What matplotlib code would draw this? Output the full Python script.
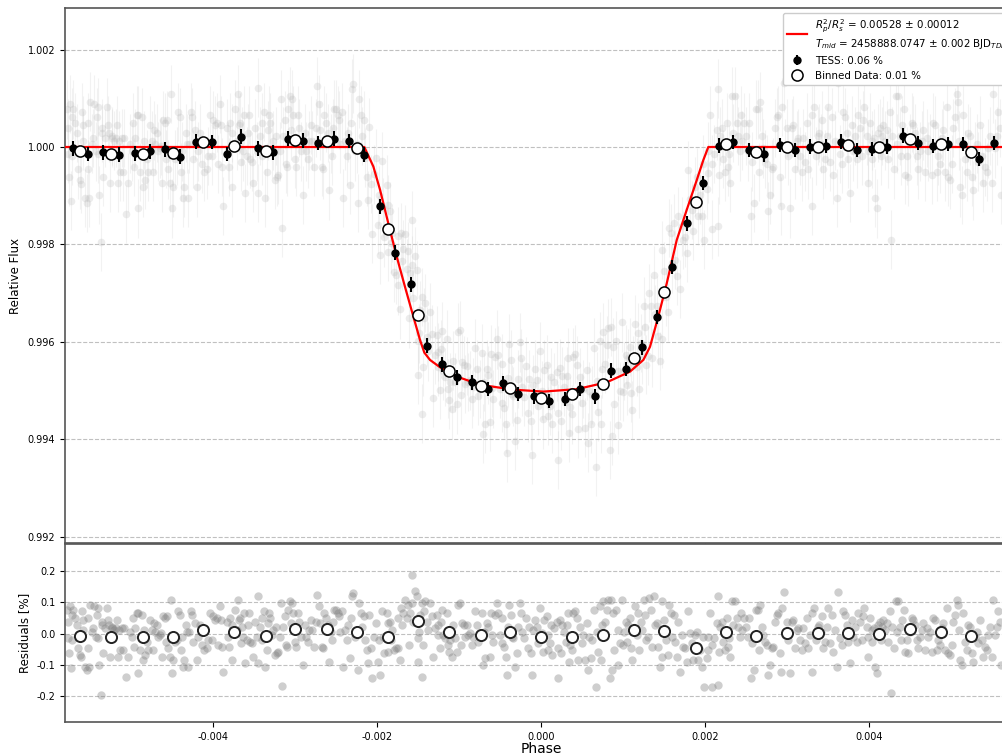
import numpy as np
import matplotlib
matplotlib.use("Agg")
import matplotlib.pyplot as plt

# Transit model (red curve), knots
model_phase = [-0.0060, -0.002155, -0.002045, -0.001963, -0.001862, -0.001760, -0.001659, -0.001557,
               -0.001476, -0.001423, -0.001354, -0.001232, -0.001028, -0.000744, -0.000338, 0.000028,
               0.000435, 0.000801, 0.001085, 0.001248, 0.001329, 0.001430, 0.001533, 0.001655,
               0.001777, 0.001899, 0.001979, 0.002040, 0.0060]
model_flux = [1.0, 1.0, 0.99960, 0.99912, 0.99843, 0.99775, 0.99713, 0.99652,
              0.99604, 0.99578, 0.99563, 0.99548, 0.99529, 0.99512, 0.99502, 0.99498,
              0.99503, 0.99517, 0.99539, 0.99563, 0.99590, 0.99652, 0.99720, 0.99809,
              0.99871, 0.99932, 0.99973, 1.0, 1.0]

# TESS points (black)
tess_phase = [-0.005711, -0.005521, -0.005338, -0.005146, -0.004955, -0.004768, -0.004585, -0.004399,
              -0.004207, -0.004016, -0.003826, -0.003655, -0.003455, -0.003265, -0.003085, -0.002899,
              -0.002716, -0.002524, -0.002338, -0.002155, -0.001963, -0.001777, -0.001585, -0.001394,
              -0.001207, -0.001024, -0.000838, -0.000650, -0.000463, -0.000280, -0.000089, 0.000098,
              0.000289, 0.000476, 0.000662, 0.000850, 0.001037, 0.001228, 0.001411, 0.001601,
              0.001784, 0.001979, 0.002171, 0.002345, 0.002533, 0.002720, 0.002915, 0.003098,
              0.003280, 0.003472, 0.003659, 0.003850, 0.004033, 0.004223, 0.004411, 0.004594,
              0.004784, 0.004967, 0.005150, 0.005345, 0.005528]
tess_flux = [0.99997, 0.99986, 0.99989, 0.99984, 0.99987, 0.99991, 0.99995, 0.99980, 1.00011, 1.00010,
             0.99986, 1.00021, 0.99997, 0.99989, 1.00017, 1.00013, 1.00008, 1.00017, 1.00012, 0.99984,
             0.99878, 0.99783, 0.99718, 0.99592, 0.99554, 0.99527, 0.99517, 0.99503, 0.99515, 0.99493,
             0.99488, 0.99479, 0.99483, 0.99503, 0.99488, 0.99541, 0.99544, 0.99589, 0.99651, 0.99754,
             0.99843, 0.99926, 1.00003, 1.00010, 0.99994, 0.99985, 1.00004, 0.99994, 1.00001, 1.00002,
             1.00011, 0.99994, 0.99996, 1.00001, 1.00023, 1.00008, 1.00002, 1.00006, 1.00006, 0.99975,
             1.00008]
tess_err = 0.00015

# Binned data (open circles)
bin_phase = [-0.005622, -0.005244, -0.004857, -0.004491, -0.004118, -0.003740, -0.003357, -0.002996,
             -0.002613, -0.002248, -0.001870, -0.001496, -0.001118, -0.000735, -0.000374, 0.000004,
             0.000382, 0.000752, 0.001134, 0.001504, 0.001887, 0.002256, 0.002626, 0.002996,
             0.003374, 0.003748, 0.004126, 0.004500, 0.004874, 0.005244]
bin_flux = [0.99991, 0.99986, 0.99986, 0.99988, 1.00010, 1.00003, 0.99992, 1.00014, 1.00013, 0.99997,
            0.99831, 0.99655, 0.99541, 0.99510, 0.99505, 0.99485, 0.99493, 0.99513, 0.99567, 0.99702,
            0.99888, 1.00007, 0.99989, 1.00001, 1.00001, 1.00005, 0.99999, 1.00016, 1.00006, 0.99990]
bin_resid = [-0.008, -0.012, -0.011, -0.012, 0.012, 0.004, -0.007, 0.015, 0.014, 0.004,
             -0.010, 0.041, 0.004, -0.003, 0.007, -0.012, -0.009, -0.004, 0.012, 0.010,
             -0.045, 0.007, -0.007, 0.001, 0.002, 0.003, -0.001, 0.015, 0.004, -0.007]
bin_err = 0.00007

# Unbinned TESS points: phase and residual [%]
gray_phase = [
    -0.005785, -0.005764, -0.005744, -0.005724, -0.005703, -0.005772, -0.005724, -0.005756, -0.005732, -0.005683,
    -0.005663, -0.005651, -0.005622, -0.005614, -0.005602, -0.005581, -0.005581, -0.005561, -0.005541, -0.005529,
    -0.005520, -0.005512, -0.005500, -0.005480, -0.005459, -0.005447, -0.005431, -0.005419, -0.005407, -0.005399,
    -0.005386, -0.005366, -0.005358, -0.005350, -0.005337, -0.005317, -0.005297, -0.005285, -0.005264, -0.005256,
    -0.005236, -0.005228, -0.005203, -0.005187, -0.005175, -0.005155, -0.005146, -0.005134, -0.005114, -0.005094,
    -0.005081, -0.005065, -0.005041, -0.005012, -0.004992, -0.004972, -0.004960, -0.004951, -0.004931, -0.004911,
    -0.004911, -0.004890, -0.004870, -0.004850, -0.004837, -0.004829, -0.004809, -0.004789, -0.004768, -0.004748,
    -0.004728, -0.004716, -0.004707, -0.004687, -0.004675, -0.004646, -0.004634, -0.004618, -0.004606, -0.004585,
    -0.004577, -0.004565, -0.004545, -0.004525, -0.004512, -0.004504, -0.004484, -0.004464, -0.004443, -0.004423,
    -0.004403, -0.004390, -0.004374, -0.004362, -0.004350, -0.004333, -0.004321, -0.004301, -0.004293, -0.004268,
    -0.004252, -0.004240, -0.004220, -0.004199, -0.004179, -0.004159, -0.004138, -0.004106, -0.004077, -0.004057,
    -0.004037, -0.004016, -0.003996, -0.003976, -0.003955, -0.003935, -0.003915, -0.003903, -0.003886, -0.003874,
    -0.003834, -0.003813, -0.003805, -0.003793, -0.003773, -0.003765, -0.003732, -0.003712, -0.003700, -0.003683,
    -0.003671, -0.003659, -0.003651, -0.003630, -0.003618, -0.003610, -0.003590, -0.003578, -0.003561, -0.003549,
    -0.003529, -0.003508, -0.003488, -0.003468, -0.003456, -0.003448, -0.003427, -0.003407, -0.003399, -0.003374,
    -0.003366, -0.003346, -0.003334, -0.003317, -0.003305, -0.003285, -0.003265, -0.003244, -0.003236, -0.003224,
    -0.003204, -0.003183, -0.003171, -0.003155, -0.003143, -0.003122, -0.003114, -0.003102, -0.003082, -0.003061,
    -0.003049, -0.003041, -0.003021, -0.003000, -0.002992, -0.002968, -0.002952, -0.002927, -0.002899, -0.002878,
    -0.002866, -0.002846, -0.002830, -0.002805, -0.002789, -0.002765, -0.002748, -0.002732, -0.002708, -0.002695,
    -0.002675, -0.002655, -0.002643, -0.002626, -0.002602, -0.002586, -0.002561, -0.002545, -0.002533, -0.002521,
    -0.002504, -0.002480, -0.002464, -0.002447, -0.002431, -0.002411, -0.002391, -0.002370, -0.002350, -0.002334,
    -0.002317, -0.002301, -0.002289, -0.002269, -0.002248, -0.002236, -0.002220, -0.002195, -0.002179, -0.002155,
    -0.002147, -0.002126, -0.002114, -0.002098, -0.002073, -0.002057, -0.002033, -0.002016, -0.001992, -0.001976,
    -0.001960, -0.001943, -0.001923, -0.001911,
    -0.001882, -0.001869, -0.001861, -0.001841, -0.001829, -0.001813, -0.001788, -0.001772, -0.001748, -0.001739,
    -0.001719, -0.001707, -0.001699, -0.001678, -0.001658, -0.001638, -0.001626, -0.001609, -0.001597, -0.001577,
    -0.001569, -0.001556, -0.001536, -0.001516, -0.001504, -0.001496, -0.001487, -0.001475, -0.001455, -0.001447,
    -0.001435, -0.001422, -0.001414, -0.001394, -0.001374, -0.001353, -0.001333, -0.001313, -0.001292, -0.001272,
    -0.001260, -0.001252, -0.001231, -0.001219, -0.001203, -0.001191, -0.001170, -0.001150, -0.001138, -0.001122,
    -0.001109, -0.001089, -0.001069, -0.001048, -0.001028, -0.001008, -0.000987, -0.000975, -0.000959, -0.000935,
    -0.000926, -0.000906, -0.000886, -0.000865, -0.000845, -0.000825, -0.000804, -0.000784, -0.000772, -0.000743,
    -0.000723, -0.000703, -0.000691, -0.000682, -0.000662, -0.000642, -0.000622, -0.000609, -0.000593, -0.000581,
    -0.000561, -0.000540, -0.000520, -0.000500, -0.000479, -0.000471, -0.000447, -0.000430, -0.000418, -0.000406,
    -0.000390, -0.000365, -0.000357, -0.000337, -0.000317, -0.000296, -0.000276, -0.000256, -0.000243, -0.000227,
    -0.000203, -0.000187, -0.000162, -0.000146, -0.000121, -0.000113, -0.000093, -0.000073, -0.000052, -0.000032,
    -0.000012, 0.000009, 0.000029, 0.000041,
    0.000069, 0.000081, 0.000089, 0.000110, 0.000122, 0.000138, 0.000163, 0.000191, 0.000203, 0.000211,
    0.000232, 0.000244, 0.000260, 0.000285, 0.000301, 0.000313, 0.000333, 0.000342, 0.000354, 0.000374,
    0.000394, 0.000415, 0.000435, 0.000455, 0.000476, 0.000496, 0.000516, 0.000537, 0.000557, 0.000569,
    0.000585, 0.000610, 0.000626, 0.000650, 0.000667, 0.000679, 0.000699, 0.000720, 0.000732, 0.000748,
    0.000760, 0.000781, 0.000801, 0.000821, 0.000842, 0.000854, 0.000862, 0.000882, 0.000894, 0.000911,
    0.000935, 0.000943, 0.000963, 0.000984, 0.001004, 0.001016, 0.001033, 0.001045, 0.001065, 0.001085,
    0.001098, 0.001114, 0.001126, 0.001146, 0.001167, 0.001179, 0.001195, 0.001220, 0.001236, 0.001252,
    0.001268, 0.001276, 0.001301, 0.001317, 0.001341, 0.001358, 0.001374, 0.001390, 0.001411, 0.001431,
    0.001451, 0.001472, 0.001480, 0.001504, 0.001520, 0.001545, 0.001561, 0.001585, 0.001602, 0.001618,
    0.001634, 0.001655, 0.001675, 0.001695, 0.001716, 0.001736, 0.001756, 0.001777, 0.001797, 0.001817,
    0.001837, 0.001858, 0.001878, 0.001898, 0.001919, 0.001939, 0.001959, 0.001980, 0.001992,
    0.002020, 0.002033, 0.002041, 0.002061, 0.002081, 0.002089, 0.002114, 0.002142, 0.002154, 0.002163,
    0.002171, 0.002183, 0.002203, 0.002224, 0.002244, 0.002264, 0.002276, 0.002293, 0.002305, 0.002325,
    0.002346, 0.002366, 0.002386, 0.002407, 0.002427, 0.002439, 0.002455, 0.002480, 0.002496, 0.002520,
    0.002537, 0.002561, 0.002577, 0.002602, 0.002618, 0.002642, 0.002659, 0.002671, 0.002691, 0.002711,
    0.002732, 0.002752, 0.002772, 0.002793, 0.002813, 0.002833, 0.002854, 0.002874, 0.002894, 0.002915,
    0.002927, 0.002943, 0.002959, 0.002976, 0.002996, 0.003016, 0.003037, 0.003057, 0.003077, 0.003098,
    0.003118, 0.003138, 0.003159, 0.003179, 0.003199, 0.003220, 0.003240, 0.003260, 0.003280, 0.003301,
    0.003309, 0.003333, 0.003350, 0.003374, 0.003390, 0.003415, 0.003431, 0.003443, 0.003463, 0.003484,
    0.003504, 0.003524, 0.003545, 0.003565, 0.003585, 0.003606, 0.003626, 0.003646, 0.003667, 0.003687,
    0.003707, 0.003728, 0.003748, 0.003768, 0.003789, 0.003809, 0.003829, 0.003850, 0.003870, 0.003890,
    0.003911, 0.003931, 0.003943,
    0.003971, 0.003984, 0.003992, 0.004012, 0.004032, 0.004040, 0.004065, 0.004073, 0.004093, 0.004114,
    0.004134, 0.004146, 0.004162, 0.004175, 0.004195, 0.004215, 0.004236, 0.004256, 0.004268, 0.004284,
    0.004309, 0.004325, 0.004337, 0.004358, 0.004378, 0.004390, 0.004406, 0.004431, 0.004439, 0.004459,
    0.004479, 0.004500, 0.004520, 0.004540, 0.004561, 0.004581, 0.004601, 0.004622, 0.004642, 0.004662,
    0.004683, 0.004703, 0.004723, 0.004744, 0.004764, 0.004784, 0.004805, 0.004825, 0.004845, 0.004866,
    0.004886, 0.004906, 0.004927, 0.004947, 0.004967, 0.004988, 0.005008, 0.005028, 0.005049, 0.005069,
    0.005081, 0.005097, 0.005110, 0.005130, 0.005150, 0.005171, 0.005191, 0.005211, 0.005231, 0.005252,
    0.005272, 0.005292, 0.005313, 0.005333, 0.005353, 0.005374, 0.005394, 0.005414, 0.005435, 0.005455,
    0.005475, 0.005496, 0.005516, 0.005536, 0.005557, 0.005577, 0.005597, 0.005610,
]
gray_resid = [
    0.077, 0.039, 0.088, 0.061, 0.077, -0.014, -0.019, -0.062, -0.110, 0.050,
    0.029, -0.046, -0.067, -0.075, 0.072, 0.013, 0.045, -0.105, -0.115, -0.046,
    0.050, -0.105, 0.093, 0.007, 0.018, 0.088, -0.009, 0.061, 0.082, -0.014,
    -0.099, -0.195, 0.029, 0.039, -0.062, 0.018, 0.082, 0.045, 0.029, -0.073,
    0.023, 0.018, 0.013, 0.018, 0.045, -0.073, 0.013, -0.051, 0.018, -0.051,
    0.018, -0.137, -0.073, 0.007, -0.009, 0.050, -0.041, 0.018, 0.066, 0.066,
    -0.126, -0.051, 0.061, -0.083, 0.013, -0.067, -0.025, -0.051, 0.045, 0.013,
    -0.051, 0.034, 0.007, 0.029, -0.009, -0.003, 0.002, -0.073, 0.055, 0.050,
    -0.025, 0.055, -0.046, -0.073, 0.109, -0.126, -0.083, -0.025, -0.019, 0.072,
    0.061, -0.051, -0.009, -0.105, -0.083, 0.029, 0.007, -0.105, 0.007, 0.072,
    0.061, -0.025, 0.034, -0.083, -0.009, 0.029, -0.035, -0.051, -0.046, -0.019,
    0.066, -0.019, 0.055, 0.045, 0.050, -0.035, 0.088, 0.045, -0.041, -0.121,
    0.039, -0.009, -0.041, 0.050, -0.083, 0.029, 0.077, 0.013, 0.109, 0.045,
    0.050, -0.030, 0.023, -0.009, 0.066, -0.094, -0.019, 0.029, 0.066, -0.025,
    -0.030, -0.073, 0.039, -0.009, 0.122, -0.094, 0.023, 0.050, -0.019, 0.072,
    -0.105, -0.051, 0.034, 0.066, 0.050, -0.003, 0.013, -0.067, 0.023, -0.062,
    -0.057, -0.009, 0.098, -0.166, 0.023, 0.055, -0.035, -0.041, 0.077, 0.104,
    0.034, 0.098, 0.066, -0.025, -0.041, 0.066, 0.039, -0.009, -0.099, 0.029,
    -0.009, -0.025, 0.013, 0.045, 0.013, -0.041, 0.039, 0.125, 0.088, 0.034,
    -0.041, -0.046, 0.066, 0.050, 0.029, -0.089, 0.007, -0.019, 0.039, 0.077,
    0.077, 0.066, 0.055, 0.007, 0.072, -0.105, 0.013, -0.019, 0.029, -0.078,
    0.050, 0.120, 0.130, -0.009, 0.007, -0.115, 0.098, 0.066, 0.023, 0.055,
    -0.019, -0.051, -0.094, 0.061, -0.046, -0.142, -0.009, 0.034, -0.089, -0.019,
    -0.131, 0.072, -0.009, -0.062,
    0.066, 0.034, -0.057, 0.039, -0.019, 0.013, -0.051, -0.046, 0.050, -0.046,
    -0.083, 0.082, 0.029, 0.066, 0.109, 0.050, 0.093, -0.035, 0.066, 0.186,
    0.098, 0.039, 0.136, 0.120, -0.089, -0.014, 0.007, 0.061, 0.098, -0.137,
    -0.035, 0.072, 0.104, 0.039, 0.013, 0.098, 0.055, -0.073, 0.018, 0.061,
    -0.003, 0.029, -0.046, 0.039, 0.077, -0.003, -0.014, 0.066, -0.035, -0.057,
    -0.019, -0.073, 0.029, -0.014, -0.057, 0.093, 0.098, -0.035, 0.034, 0.029,
    -0.009, 0.029, -0.003, 0.002, -0.035, -0.009, 0.072, 0.029, -0.025, -0.009,
    0.066, -0.099, 0.007, -0.078, 0.034, 0.023, -0.073, 0.066, -0.003, -0.025,
    0.061, 0.098, 0.066, -0.003, -0.030, 0.050, -0.041, -0.073, -0.131, 0.023,
    0.093, 0.061, -0.009, -0.014, -0.105, -0.062, 0.023, 0.098, 0.066, 0.007,
    -0.014, 0.050, -0.046, 0.023, -0.062, -0.131, 0.013, 0.045, 0.023, -0.030,
    0.082, 0.002, -0.057, 0.045,
    0.055, -0.003, -0.051, -0.030, 0.029, -0.067, 0.018, 0.039, -0.142, -0.046,
    0.045, -0.062, 0.029, 0.007, -0.025, 0.029, 0.066, -0.089, -0.035, -0.051,
    0.066, 0.072, 0.050, -0.083, 0.023, -0.030, -0.003, -0.083, 0.034, -0.115,
    -0.009, -0.078, -0.019, 0.077, -0.169, 0.007, -0.057, 0.088, -0.083, 0.029,
    0.104, 0.039, 0.077, 0.109, -0.142, 0.109, -0.115, 0.066, -0.051, 0.077,
    0.013, -0.099, -0.030, 0.109, -0.035, 0.007, 0.039, -0.025, 0.029, 0.050,
    -0.046, -0.083, 0.007, 0.088, -0.003, 0.066, -0.051, 0.039, 0.013, 0.109,
    0.061, -0.019, -0.009, 0.114, 0.077, -0.041, 0.120, 0.029, 0.034, -0.041,
    -0.105, -0.073, 0.104, 0.045, -0.019, -0.067, 0.093, 0.066, -0.009, 0.061,
    -0.025, -0.073, 0.039, -0.121, -0.003, -0.041, -0.046, -0.089, 0.072, 0.002,
    -0.030, -0.083, -0.003, 0.007, -0.083, -0.051, -0.105, -0.009, -0.169,
    -0.078, -0.051, -0.009, 0.066, -0.169, -0.035, -0.014, 0.034, -0.163, 0.120,
    -0.057, 0.023, 0.039, -0.025, -0.051, 0.050, -0.041, -0.014, -0.073, 0.104,
    0.029, 0.104, 0.050, 0.023, -0.009, 0.066, 0.013, 0.050, 0.023, -0.009,
    0.050, -0.142, -0.030, -0.115, 0.077, 0.077, -0.051, 0.093, 0.023, -0.003,
    -0.025, -0.035, -0.131, -0.099, -0.046, -0.041, 0.039, 0.061, 0.066, -0.062,
    -0.121, 0.082, 0.132, -0.003, 0.039, -0.019, -0.126, 0.039, 0.045, -0.046,
    0.013, 0.018, -0.019, -0.051, 0.018, -0.030, 0.050, -0.046, -0.003, 0.066,
    -0.121, 0.082, -0.019, 0.023, 0.029, 0.007, 0.055, -0.046, -0.025, 0.023,
    0.082, -0.030, 0.061, -0.057, 0.013, -0.105, 0.132, -0.014, -0.035, 0.072,
    0.061, 0.029, -0.025, -0.094, 0.045, -0.009, 0.023, -0.025, 0.066, 0.039,
    -0.019, 0.055, 0.082,
    0.023, -0.009, -0.073, 0.050, 0.013, -0.025, 0.018, -0.105, -0.126, 0.029,
    0.039, -0.019, 0.023, 0.045, 0.013, 0.034, -0.025, 0.072, -0.190, 0.023,
    -0.046, 0.104, 0.007, 0.104, 0.023, -0.019, 0.045, 0.077, -0.057, -0.019,
    -0.062, 0.007, 0.050, 0.045, 0.029, -0.019, -0.046, -0.009, 0.013, 0.034,
    -0.051, 0.018, -0.009, 0.007, -0.057, 0.050, 0.045, -0.051, -0.019, -0.035,
    0.018, 0.034, -0.051, 0.082, -0.062, -0.067, -0.035, 0.039, 0.061, 0.109,
    0.093, 0.013, -0.083, -0.099, 0.066, -0.025, -0.051, 0.029, 0.023, -0.062,
    -0.089, -0.009, 0.007, -0.030, 0.045, -0.019, -0.073, -0.041, -0.051, -0.003,
    0.023, -0.073, 0.109, -0.003, 0.023, 0.072, 0.039, -0.099,
]
gray_err = 0.0006

legend_fit = "$R_p^2/R_s^2$ = 0.00528 ± 0.00012\n$T_{mid}$ = 2458888.0747 ± 0.002 BJD$_{TDB}$"
legend_tess = "TESS: 0.06 %"
legend_bin = "Binned Data: 0.01 %"

# the unbinned flux is the model plus the residual
gray_phase = np.array(gray_phase)
gray_model = np.interp(gray_phase, model_phase, model_flux)
gray_flux = gray_model + np.array(gray_resid) / 100.0

fig = plt.figure(figsize=(10.02, 7.56), dpi=100)
ax = fig.add_axes([0.0649, 0.2815, 0.9501, 0.7080])
axr = fig.add_axes([0.0649, 0.0450, 0.9501, 0.2360], sharex=ax)

# top panel
ax.errorbar(gray_phase, gray_flux, yerr=gray_err, fmt="o", ms=5.5, color="#b5b5b5",
            ecolor="#cccccc", elinewidth=0.8, alpha=0.25, mew=0, zorder=1)
fit_line, = ax.plot(model_phase, model_flux, color="red", lw=1.6, zorder=3, label=legend_fit)
tess_h = ax.errorbar(tess_phase, tess_flux, yerr=tess_err, fmt="o", ms=5, color="black",
                     elinewidth=1.5, capsize=0, zorder=4, label=legend_tess)
ax.errorbar(bin_phase, bin_flux, yerr=bin_err, fmt="none", ecolor="black", elinewidth=1.0, zorder=5)
bin_h, = ax.plot(bin_phase, bin_flux, "o", ms=8, mfc="white", mec="black", mew=1.1,
                 zorder=6, label=legend_bin)

ax.set_xlim(-0.005805, 0.005805)
ax.set_ylim(0.991869, 1.002854)
ax.set_yticks([0.992, 0.994, 0.996, 0.998, 1.000, 1.002])
ax.yaxis.set_major_formatter(plt.FormatStrFormatter("%.3f"))
ax.set_ylabel("Relative Flux", fontsize=8.5)
ax.tick_params(axis="y", labelsize=7)
ax.tick_params(axis="x", labelbottom=False)
ax.yaxis.grid(True, linestyle="--", color="#c0c0c0", lw=0.8)
ax.set_axisbelow(True)
ax.legend(handles=[fit_line, tess_h, bin_h], loc="upper right", fontsize=7.4,
          framealpha=1.0, edgecolor="#cccccc")

# residual panel
axr.plot(gray_phase, gray_resid, "o", ms=6, color="gray", alpha=0.38, mew=0, zorder=1)
axr.plot(bin_phase, bin_resid, "o", ms=8, mfc="white", mec="#222222", mew=1.4, zorder=3)
axr.set_ylim(-0.282, 0.288)
axr.set_yticks([-0.2, -0.1, 0.0, 0.1, 0.2])
axr.yaxis.set_major_formatter(plt.FormatStrFormatter("%.1f"))
axr.set_xticks([-0.004, -0.002, 0.0, 0.002, 0.004])
axr.xaxis.set_major_formatter(plt.FormatStrFormatter("%.3f"))
axr.tick_params(labelsize=7)
axr.set_ylabel("Residuals [%]", fontsize=8.5)
axr.set_xlabel("Phase", fontsize=10, labelpad=0)
axr.yaxis.grid(True, linestyle="--", color="#c0c0c0", lw=0.8)
axr.set_axisbelow(True)

for a in (ax, axr):
    for s in a.spines.values():
        s.set_color("#555555")
        s.set_linewidth(1.2)

fig.savefig("out.png", dpi=100)
